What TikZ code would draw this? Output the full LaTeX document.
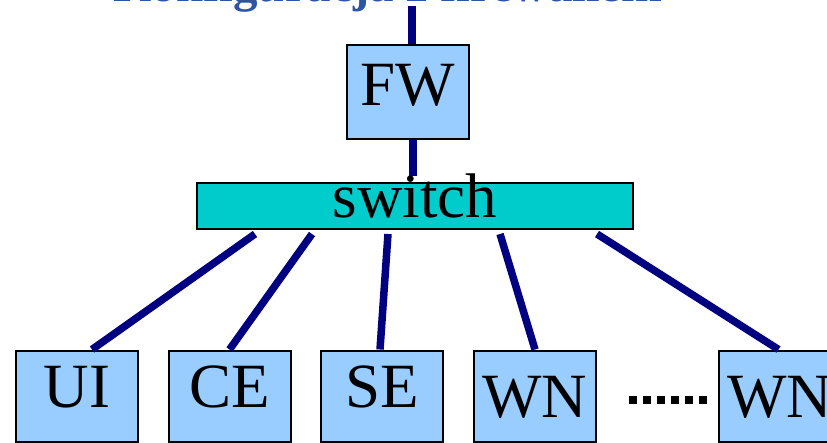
\documentclass[tikz,border=0pt]{standalone}
\usepackage{fontspec}
\setmainfont{Liberation Serif}
\definecolor{boxblue}{HTML}{99CCFF}
\definecolor{switchcyan}{HTML}{00CCCC}
\definecolor{wire}{HTML}{000080}
\definecolor{titleblue}{HTML}{2E55A3}
\begin{document}
\begin{tikzpicture}[x=1pt,y=-1pt,
  hostbox/.style={draw=black,line width=2pt,fill=boxblue,minimum width=122pt,minimum height=91pt,
    inner sep=0pt,font=\fontsize{63}{63}\selectfont,text depth=0pt},
  link/.style={draw=wire,line width=7.5pt},
  dotline/.style={draw=black,line width=8pt,dash pattern=on 8pt off 6pt}]
\useasboundingbox (0,0) rectangle (827,442);

% title, partly above the page edge
\node[anchor=base,font=\fontsize{49}{49}\selectfont\bfseries,text=titleblue,inner sep=0pt]
  (title) at (388,1) {Konfiguracja z firewallem};

% firewall and switch
\node[hostbox,minimum height=94pt,text height=26pt] (fw) at (408,92) {FW};
\node[draw=black,line width=2pt,fill=switchcyan,minimum width=436pt,minimum height=46pt,inner sep=0pt,
  font=\fontsize{63}{63}\selectfont,text height=22pt,text depth=0pt] (sw) at (415,206) {switch};

% hosts
\node[hostbox,text height=22pt] (ui)  at (77,396)    {UI};
\node[hostbox,text height=22pt] (ce)  at (229.5,396) {CE};
\node[hostbox,text height=22pt] (se)  at (382,396)   {SE};
\node[hostbox,text height=42pt] (wn)  at (535,396)   {WN};
\node[hostbox,text height=42pt] (wn2) at (779.5,396) {WN};

% uplink
\coordinate (up) at (412,6);
\draw[link] (up) -- ([xshift=4pt]fw.north);
\draw[link] ([xshift=5pt]fw.south) -- ([xshift=-2pt,yshift=6pt]sw.north);

% switch to hosts
\draw[link] ([xshift=-160pt,yshift=-4pt]sw.south) -- ([xshift=15pt]ui.north);
\draw[link] ([xshift=-103pt,yshift=-4pt]sw.south) -- (ce.north);
\draw[link] ([xshift=-27pt,yshift=-4pt]sw.south)  -- ([xshift=-2pt]se.north);
\draw[link] ([xshift=85pt,yshift=-4pt]sw.south)   -- (wn.north);
\draw[link] ([xshift=182pt,yshift=-4pt]sw.south)  -- ([xshift=-1pt]wn2.north);

% more worker nodes
\draw[dotline] ([xshift=32pt,yshift=-4pt]wn.east) -- ([xshift=-7pt,yshift=-4pt]wn2.west);
\end{tikzpicture}
\end{document}
